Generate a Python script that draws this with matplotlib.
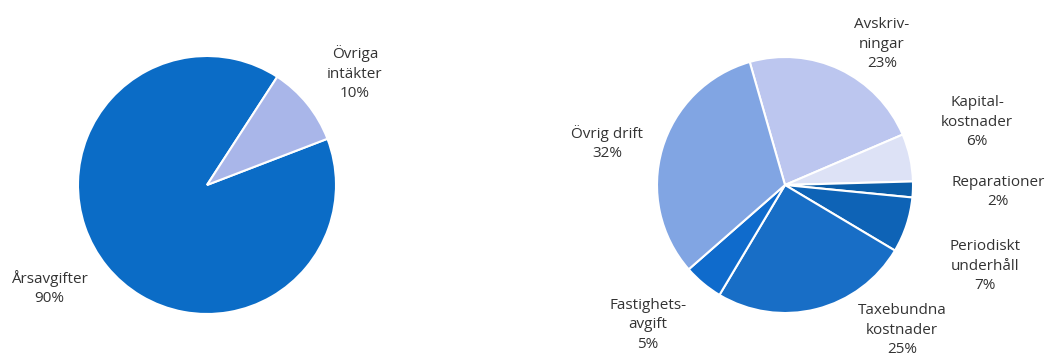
import matplotlib
matplotlib.use("Agg")
import matplotlib.pyplot as plt

# Intäkter (vänster cirkel)
income_labels = ["Årsavgifter\n90%", "Övriga\nintäkter\n10%"]
income_values = [90, 10]
income_colors = ["#0b6cc6", "#a9b6e9"]

# Kostnader (höger cirkel), medurs från Avskrivningar
cost_labels = [
    "Avskriv-\nningar\n23%",
    "Kapital-\nkostnader\n6%",
    "Reparationer\n2%",
    "Periodiskt\nunderhåll\n7%",
    "Taxebundna\nkostnader\n25%",
    "Fastighets-\navgift\n5%",
    "Övrig drift\n32%",
]
cost_values = [23, 6, 2, 7, 25, 5, 32]
cost_colors = ["#bcc6ef", "#dde2f6", "#0b5da8", "#0e63b6", "#186ec6", "#0f6bcc", "#81a5e3"]

# label positions in image pixels (x, y from top)
income_label_pos = [(49, 288), (355, 73)]
cost_label_pos = [(882, 44), (977, 122), (998, 192), (985, 266), (902, 330), (648, 325), (607, 143)]

W, H = 1048, 357

fig = plt.figure(figsize=(W / 100, H / 100), dpi=100)
ax = fig.add_axes([0, 0, 1, 1])

wedge_style = {"edgecolor": "white", "linewidth": 1.5}

ax.pie(income_values, colors=income_colors, startangle=57, counterclock=True,
       center=(207, H - 185), radius=129, wedgeprops=wedge_style, frame=False)
ax.pie(cost_values, colors=cost_colors, startangle=106, counterclock=False,
       center=(785, H - 185), radius=128, wedgeprops=wedge_style, frame=False)

ax.set_xlim(0, W)
ax.set_ylim(0, H)
ax.set_aspect("equal")
ax.axis("off")

text_style = dict(ha="center", va="center", fontsize=11, color="#333333",
                  family="Open Sans", linespacing=1.4)

for label, (x, y) in zip(income_labels, income_label_pos):
    ax.text(x, H - y, label, **text_style)
for label, (x, y) in zip(cost_labels, cost_label_pos):
    ax.text(x, H - y, label, **text_style)

fig.savefig("out.png", dpi=100, facecolor="white")
